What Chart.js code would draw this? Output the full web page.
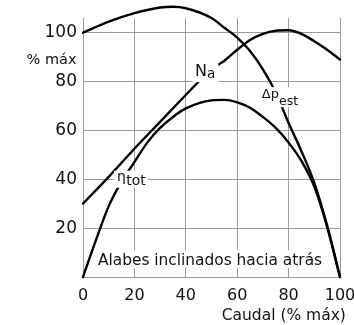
<!DOCTYPE html>
<html>
<head>
<meta charset="utf-8">
<script src="https://cdn.jsdelivr.net/npm/chart.js@4.4.1/dist/chart.umd.min.js"></script>
<style>
    html, body { margin: 0; padding: 0; background: #fff; }
</style>
</head>
<body>
<canvas id="chart" width="354" height="325"></canvas>
<script>
// Caudal (% máx) and curve values
const flowNa = [0, 10, 20, 30, 40, 50, 55, 60, 65, 70, 75, 80, 85, 90, 95, 100];
const powerNa = [30, 41, 52.5, 63.5, 74.5, 85, 88.5, 93, 97, 99.5, 100.8, 101, 99.5, 96.5, 93, 89];

const flowDp = [0, 10, 20, 30, 35, 40, 50, 55, 60, 65, 70, 75, 80, 85, 90, 95, 100];
const pressureDp = [100, 104.5, 108, 110.3, 110.6, 110, 106, 102, 98, 92.5, 85, 75.5, 63, 51.5, 38.5, 21, 0];

const flowEta = [0, 5, 10, 15, 20, 25, 30, 35, 40, 50, 55, 60, 65, 70, 75, 80, 85, 90, 95, 100];
const efficiencyEta = [0, 15, 29, 39, 47, 55, 61, 65.5, 69, 72.3, 72.5, 71.5, 69.3, 65.5, 61, 55, 47.5, 37, 20.5, 0];

const xTicks = [0, 20, 40, 60, 80, 100];
const yTicks = [20, 40, 60, 80, 100];

const fontFamily = "'DejaVu Sans', sans-serif";
const textColor = "#111";
const gridColor = "#9a9a9a";

// Texts in the plot: anchor in data units, parts = [text, size, dx, dy]
const annotations = [
    { x: 5.8, y: 4.9, parts: [["Alabes inclinados hacia atrás", 15.4, 0, 0]], box: [2, 15, 2, 3] },
    { x: 43.6, y: 82.2, parts: [["N", 16, 0, 0], ["a", 13.5, 0, 2]], box: [2, 15, 3, 6] },
    { x: 69.6, y: 73.2, parts: [["Δp", 13, 0, 0], ["est", 12.5, 0, 6.5]], box: [2, 11, 1, 9] },
    { x: 13.2, y: 39.4, parts: [["η", 14, 0, 0], ["tot", 14, 0.5, 4]], box: [3, 10, 2, 7] },
    { x: -2.5, y: 87, parts: [["% máx", 14.5, 0, 0]], align: "right" },
    { x: 102.3, y: -17.6, parts: [["Caudal (% máx)", 15.5, 0, 0]], align: "right" }
];

const toPoints = (xs, ys) => xs.map((x, i) => ({ x: x, y: ys[i] }));

const curve = data => ({
    data: data,
    borderColor: "#000",
    borderWidth: 2.4,
    pointRadius: 0,
    fill: false,
    cubicInterpolationMode: "monotone",
    capBezierPoints: false,
    borderJoinStyle: "round",
    borderCapStyle: "round",
    clip: false
});

const labelPlugin = {
    id: "curveLabels",
    afterDatasetsDraw(chart) {
        const { ctx, scales: { x, y } } = chart;
        ctx.save();
        ctx.textBaseline = "alphabetic";
        for (const a of annotations) {
            // measure all parts first
            let width = 0;
            const widths = a.parts.map(([text, size, dx]) => {
                ctx.font = size + "px " + fontFamily;
                const w = ctx.measureText(text).width + dx;
                width += w;
                return w;
            });
            const baseline = y.getPixelForValue(a.y);
            let left = x.getPixelForValue(a.x);
            if (a.align === "right") left -= width;

            if (a.box) {
                const [padL, up, padR, down] = a.box;
                ctx.fillStyle = "#fff";
                ctx.fillRect(left - padL, baseline - up, width + padL + padR, up + down);
            }

            ctx.fillStyle = textColor;
            ctx.textAlign = "left";
            let cursor = left;
            a.parts.forEach(([text, size, dx, dy], i) => {
                ctx.font = size + "px " + fontFamily;
                ctx.fillText(text, cursor + dx, baseline + dy);
                cursor += widths[i];
            });
        }
        ctx.restore();
    }
};

new Chart(document.getElementById("chart"), {
    type: "line",
    data: {
        datasets: [
            curve(toPoints(flowNa, powerNa)),
            curve(toPoints(flowDp, pressureDp)),
            curve(toPoints(flowEta, efficiencyEta))
        ]
    },
    options: {
        responsive: false,
        animation: false,
        layout: { padding: { top: 18, right: 14, left: 0, bottom: 0 } },
        plugins: {
            legend: { display: false },
            tooltip: { enabled: false }
        },
        scales: {
            x: {
                type: "linear",
                min: 0,
                max: 100,
                afterBuildTicks: scale => { scale.ticks = xTicks.map(v => ({ value: v })); },
                afterFit: scale => {
                    scale.height = 48;
                    scale.paddingLeft = 0;
                    scale.paddingRight = 0;
                },
                grid: { color: gridColor, lineWidth: 1, drawTicks: false },
                border: { color: gridColor, width: 1 },
                ticks: {
                    font: { family: fontFamily, size: 16 },
                    color: textColor,
                    padding: 9,
                    maxRotation: 0,
                    autoSkip: false
                }
            },
            y: {
                type: "linear",
                min: 0,
                max: 106,
                afterBuildTicks: scale => { scale.ticks = yTicks.map(v => ({ value: v })); },
                afterFit: scale => {
                    scale.width = 83;
                    scale.paddingTop = 0;
                    scale.paddingBottom = 0;
                },
                grid: { color: gridColor, lineWidth: 1, drawTicks: false },
                border: { color: gridColor, width: 1 },
                ticks: {
                    font: { family: fontFamily, size: 17 },
                    color: textColor,
                    padding: 6
                }
            }
        }
    },
    plugins: [labelPlugin]
});
</script>
</body>
</html>
